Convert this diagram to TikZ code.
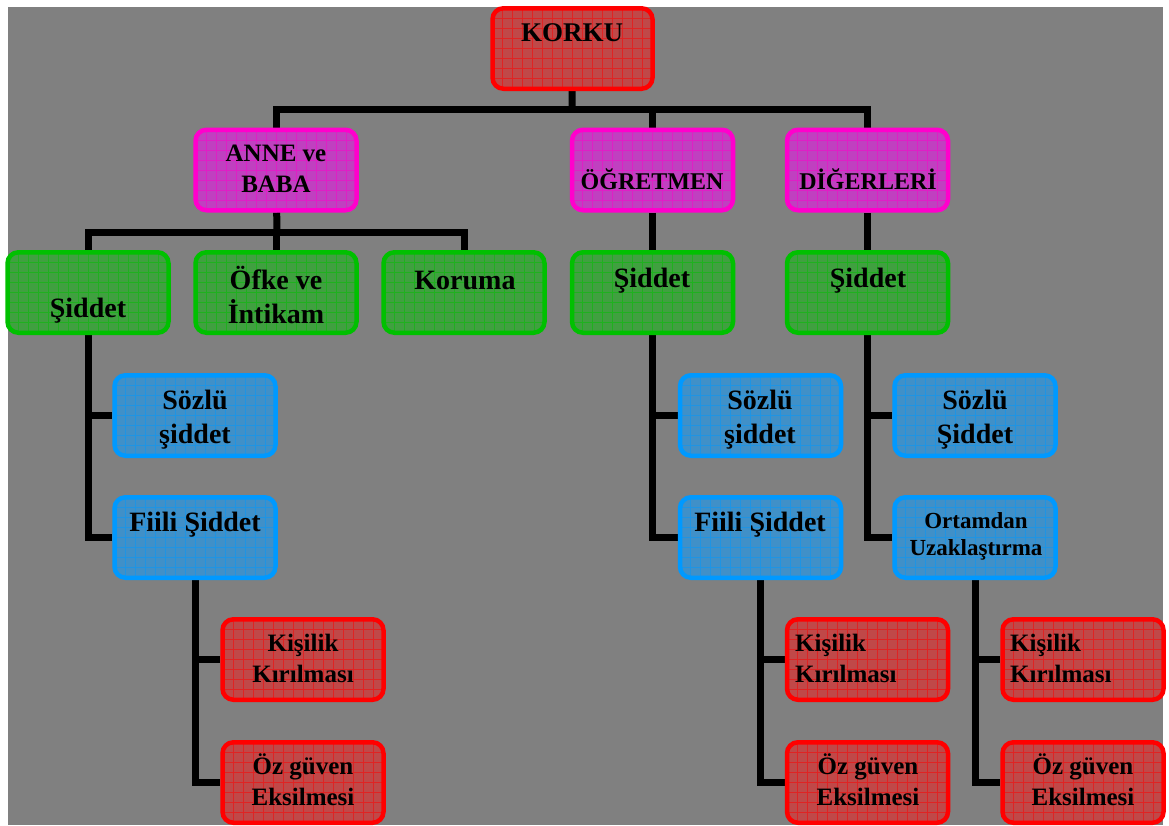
\documentclass[tikz,border=0pt]{standalone}
\usepackage{fontspec}
\setmainfont{Liberation Serif}
\pgfdeclarelayer{bg}
\pgfdeclarelayer{lines}
\pgfsetlayers{bg,lines,main}
\definecolor{gbg}{HTML}{808080}
\definecolor{rB}{HTML}{FF0000}\definecolor{rF}{HTML}{C04848}
\definecolor{mB}{HTML}{FF00CC}\definecolor{mF}{HTML}{C040C0}
\definecolor{gB}{HTML}{00C000}\definecolor{gF}{HTML}{40A040}
\definecolor{bB}{HTML}{0099FF}\definecolor{bF}{HTML}{4090C8}
\tikzset{
  box/.style 2 args={draw=#1, fill=#2, line width=4.5pt, rounded corners=11pt,
    minimum width=161pt, minimum height=80.5pt, inner sep=0pt,
    path picture={\draw[#1, line width=0.5pt, opacity=0.5, step=10pt]
      (path picture bounding box.south west) grid (path picture bounding box.north east);}},
  redbox/.style={box={rB}{rF}},
  magbox/.style={box={mB}{mF}},
  grnbox/.style={box={gB}{gF}},
  blubox/.style={box={bB}{bF}},
  lbl/.style={font=\bfseries\fontsize{28}{34}\selectfont, align=center, inner sep=0pt, text=black},
  lblm/.style={font=\bfseries\fontsize{25}{31}\selectfont, align=center, inner sep=0pt, text=black},
  lbls/.style={font=\bfseries\fontsize{23}{27}\selectfont, align=center, inner sep=0pt, text=black},
  conn/.style={line width=7pt, draw=black, line join=miter},
}
\begin{document}
\begin{tikzpicture}[x=1pt,y=-1pt]
\useasboundingbox (0,0) rectangle (1169,825);
\begin{pgfonlayer}{bg}
\fill[gbg] (8,7) rectangle (1163,825);
\end{pgfonlayer}
% boxes
\node[redbox, minimum width=160pt] (korku) at (572.5,48.5) {};
\node[magbox] (anne) at (276,170) {};
\node[magbox] (ogr) at (652.5,170) {};
\node[magbox] (dig) at (867.5,170) {};
\node[grnbox] (s1) at (88,292.5) {};
\node[grnbox] (ofke) at (276,292.5) {};
\node[grnbox] (kor) at (464,292.5) {};
\node[grnbox] (s2) at (652.5,292.5) {};
\node[grnbox] (s3) at (867.5,292.5) {};
\node[blubox] (sz1) at (195,415.5) {};
\node[blubox] (f1) at (195,537.5) {};
\node[redbox] (k1) at (303,659.5) {};
\node[redbox] (o1) at (303,782.5) {};
\node[blubox] (sz2) at (760.5,415.5) {};
\node[blubox] (f2) at (760.5,537.5) {};
\node[redbox] (k2) at (867.5,659.5) {};
\node[redbox] (o2) at (867.5,782.5) {};
\node[blubox] (sz3) at (975,415.5) {};
\node[blubox] (ort) at (975,537.5) {};
\node[redbox] (k3) at (1083,659.5) {};
\node[redbox] (o3) at (1083,782.5) {};
% texts
\node[lblm, font=\bfseries\fontsize{27}{31}\selectfont] (tkorku) at (572,33) {KORKU};
\node[lblm] (tanne) at (276,169) {ANNE ve\\BABA};
\node[lbls, font=\bfseries\fontsize{24}{28}\selectfont] (togr) at (652,179) {ÖĞRETMEN};
\node[lbls, font=\bfseries\fontsize{24}{28}\selectfont] (tdig) at (868,179) {DİĞERLERİ};
\node[lbl] (ts1) at (88,311) {Şiddet};
\node[lbl] (tofke) at (276,295) {Öfke ve\\İntikam};
\node[lbl] (tkor) at (465,280) {Koruma};
\node[lbl] (ts2) at (652,281) {Şiddet};
\node[lbl] (ts3) at (868,281) {Şiddet};
\node[lbl] (tsz1) at (195,420) {Sözlü\\şiddet};
\node[lbl] (tf1) at (195,525) {Fiili Şiddet};
\node[lblm] (tk1) at (303,658) {Kişilik\\Kırılması};
\node[lblm] (to1) at (303,780) {Öz güven\\Eksilmesi};
\node[lbl] (tsz2) at (760,420) {Sözlü\\şiddet};
\node[lbl] (tf2) at (760,525) {Fiili Şiddet};
\node[lblm, align=left, anchor=west] (tk2) at (795,658) {Kişilik\\Kırılması};
\node[lblm] (to2) at (868,780) {Öz güven\\Eksilmesi};
\node[lbl] (tsz3) at (975,420) {Sözlü\\Şiddet};
\node[lbls] (tort) at (976,536) {Ortamdan\\Uzaklaştırma};
\node[lblm, align=left, anchor=west] (tk3) at (1010,658) {Kişilik\\Kırılması};
\node[lblm] (to3) at (1083,780) {Öz güven\\Eksilmesi};
% connectors
\begin{pgfonlayer}{lines}
\coordinate (j1) at (572,109.5);
\coordinate (j2) at (277,232);
\draw[conn] (korku) -- (j1);
\draw[conn] (anne) -- (anne |- j1) -- (dig |- j1) -- (dig);
\draw[conn] (ogr) -- (ogr |- j1);
\draw[conn] (anne) -- (j2);
\draw[conn] (s1) -- (s1 |- j2) -- (kor |- j2) -- (kor);
\draw[conn] (ofke) -- (ofke |- j2);
\draw[conn] (ogr) -- (s2);
\draw[conn] (dig) -- (s3);
\draw[conn] (s1) -- (s1 |- f1) -- (f1);
\draw[conn] (s1 |- sz1) -- (sz1);
\draw[conn] (f1) -- (f1 |- o1) -- (o1);
\draw[conn] (f1 |- k1) -- (k1);
\draw[conn] (s2) -- (s2 |- f2) -- (f2);
\draw[conn] (s2 |- sz2) -- (sz2);
\draw[conn] (f2) -- (f2 |- o2) -- (o2);
\draw[conn] (f2 |- k2) -- (k2);
\draw[conn] (s3) -- (s3 |- ort) -- (ort);
\draw[conn] (s3 |- sz3) -- (sz3);
\draw[conn] (ort) -- (ort |- o3) -- (o3);
\draw[conn] (ort |- k3) -- (k3);
\end{pgfonlayer}
\end{tikzpicture}
\end{document}
